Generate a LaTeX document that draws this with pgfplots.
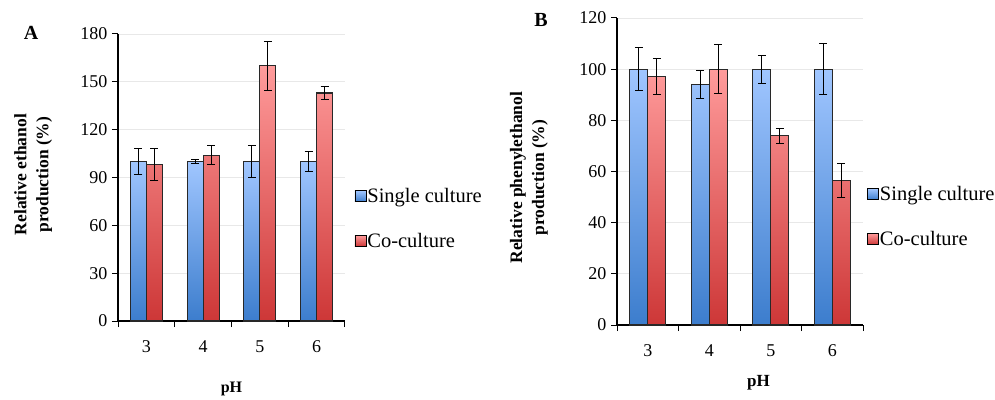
\documentclass[border=0pt]{standalone}
\usepackage{pgfplots}
\pgfplotsset{compat=1.18}
\usepackage{pgfplotstable}
\usepackage{fontspec}
\setmainfont{Liberation Serif}
\definecolor{blueT}{RGB}{160,198,255}
\definecolor{blueB}{RGB}{60,125,205}
\definecolor{redT}{RGB}{255,155,155}
\definecolor{redB}{RGB}{205,55,55}
\definecolor{barline}{RGB}{40,40,40}
\definecolor{gridc}{RGB}{232,232,232}

\pgfplotstableread{
x y e
0 100 8
1 100 1.5
2 100 10
3 100 6
}\Asingle
\pgfplotstableread{
x y e
0 98 10
1 104 6
2 160 15.5
3 143 4
}\Aco
\pgfplotstableread{
x y e
0 100 8.5
1 94 5.5
2 100 5.5
3 100 10
}\Bsingle
\pgfplotstableread{
x y e
0 97 7
1 100 9.7
2 74 3
3 56.5 6.7
}\Bco

\pgfplotsset{
  common/.style={
    scale only axis,
    anchor=south west,
    axis lines*=left,
    axis line style={line width=1.6pt, black},
    xmin=-0.5, xmax=3.5,
    ymin=0,
    xtick={-0.5,0.5,1.5,2.5,3.5},
    xticklabels={},
    x tick style={black, line width=1pt},
    major tick length=6pt,
    tick align=outside,
    extra x ticks={0,1,2,3},
    extra x tick labels={3,4,5,6},
    extra x tick style={major tick length=0pt, xmajorgrids=false},
    y tick style={black, line width=1pt},
    ymajorgrids=true,
    xmajorgrids=false,
    grid style={gridc, line width=0.8pt},
    /pgf/number format/assume math mode=true,
    tick label style={font=\fontsize{18}{20}\selectfont},
    xticklabel style={yshift=-16pt},
    yticklabel style={xshift=-1pt},
    ybar=0pt,
    legend style={draw=none, fill=none, font=\fontsize{20.5}{23}\selectfont, row sep=27pt, anchor=west,
      nodes={inner sep=1pt}},
    legend cell align=left,
    legend image code/.code={\draw[##1, draw=black, line width=0.8pt] (0pt,-5.5pt) rectangle (11pt,5.5pt);},
    error bars/y dir=both,
    error bars/y explicit,
    error bars/error bar style={black, line width=1pt},
    error bars/error mark options={rotate=90, mark size=4pt, black, line width=1pt},
  },
  single/.style={draw=barline, line width=1.2pt, top color=blueT, bottom color=blueB},
  co/.style={draw=barline, line width=1.2pt, top color=redT, bottom color=redB},
}

\begin{document}
\begin{tikzpicture}
\useasboundingbox (0,0) rectangle (995pt,399pt);
\begin{axis}[common,
  at={(118pt,78pt)}, width=227pt, height=287pt,
  ymax=180, ytick={0,30,...,180},
  bar width=16pt,
  xlabel={pH},
  every axis x label/.style={at={(axis description cs:0.5,0)}, anchor=center, yshift=-68pt, font=\fontsize{16}{18}\selectfont\bfseries},
  ylabel={Relative ethanol\\production (\%)},
  every axis y label/.style={at={(axis description cs:-0.374,0.51)}, rotate=90, anchor=center, align=center, font=\fontsize{17.5}{22}\selectfont\bfseries},
  legend style={at={(axis description cs:1.028,0.357)}},
]
\addplot[single] table[x=x, y=y, y error=e] {\Asingle};
\addplot[co] table[x=x, y=y, y error=e] {\Aco};
\legend{Single culture, Co-culture}
\end{axis}
\node[font=\fontsize{20}{22}\selectfont\bfseries] at (31pt,366pt) {A};

\begin{axis}[common,
  at={(617pt,74pt)}, width=246pt, height=307pt,
  ymax=120, ytick={0,20,...,120},
  bar width=18pt,
  xlabel={pH},
  every axis x label/.style={at={(axis description cs:0.575,0)}, anchor=center, yshift=-58pt, font=\fontsize{17}{18}\selectfont\bfseries},
  ylabel={Relative phenylethanol\\production (\%)},
  every axis y label/.style={at={(axis description cs:-0.358,0.48)}, rotate=90, anchor=center, align=center, font=\fontsize{17.5}{22}\selectfont\bfseries},
  legend style={at={(axis description cs:1.004,0.353)}},
]
\addplot[single] table[x=x, y=y, y error=e] {\Bsingle};
\addplot[co] table[x=x, y=y, y error=e] {\Bco};
\legend{Single culture, Co-culture}
\end{axis}
\node[font=\fontsize{20}{22}\selectfont\bfseries] at (541pt,379pt) {B};
\end{tikzpicture}
\end{document}
